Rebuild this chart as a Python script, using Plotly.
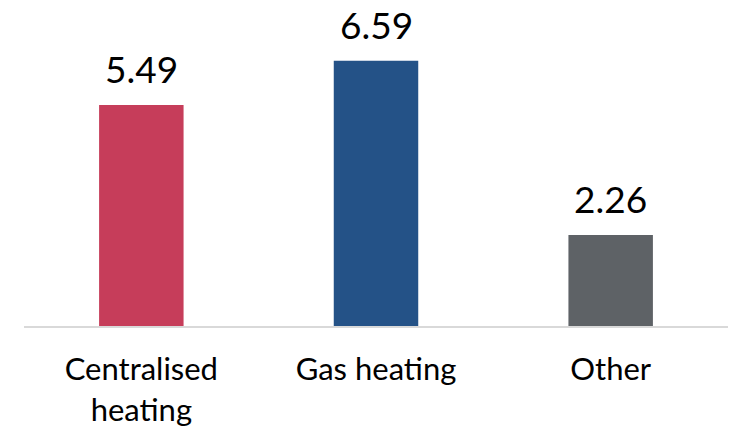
import plotly.graph_objects as go

categories = ["Centralised<br>heating", "Gas heating", "Other"]
values = [5.49, 6.59, 2.26]
colors = ["#C63D5A", "#245287", "#5E6266"]

fig = go.Figure()
fig.add_trace(go.Bar(x=categories, y=values, marker=dict(color=colors, line=dict(width=0)),
                     width=0.36, hoverinfo="skip"))

for c, v in zip(categories, values):
    fig.add_annotation(x=c, y=v, text=f"{v:.2f}", showarrow=False, yanchor="bottom",
                       yshift=12, font=dict(family="Lato", size=37, color="#000000"))

fig.update_layout(
    width=738, height=429,
    margin=dict(l=24, r=10, t=20, b=103),
    paper_bgcolor="white", plot_bgcolor="white",
    showlegend=False,
    font=dict(family="Lato", color="#000000"),
    xaxis=dict(showline=True, linecolor="#D9D9D9", linewidth=2, showgrid=False,
               ticks="", tickfont=dict(family="Lato", size=31, color="#000000"),
               ticklabelstandoff=15, automargin=False),
    yaxis=dict(range=[0, 7.6], visible=False, showgrid=False, zeroline=False,
               automargin=False),
)
fig.write_html("out.html", config={"displayModeBar": False},
               post_script="document.body.style.margin='0';document.body.style.overflow='hidden';")
